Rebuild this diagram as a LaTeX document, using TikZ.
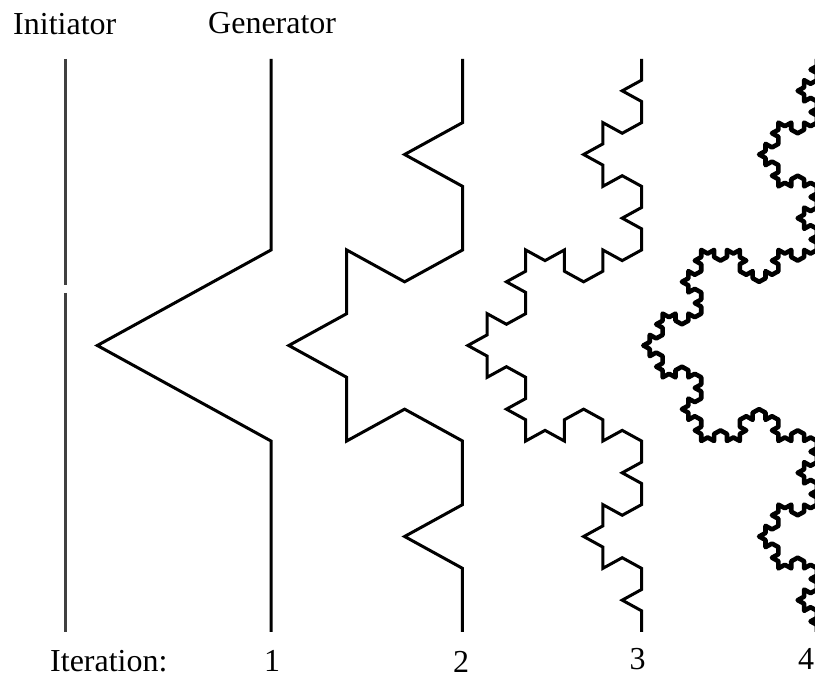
\documentclass[tikz,border=0pt]{standalone}
\usepackage{fontspec}
\setmainfont{Liberation Serif}
\usetikzlibrary{lindenmayersystems}

% Koch rule: the bump of each segment turns to the right of the heading
\pgfdeclarelindenmayersystem{KochLeft}{\rule{F -> F-F++F-F}}

\tikzset{
  label text/.style={inner sep=0pt, text depth=0pt, font=\fontsize{32}{38}\selectfont},
  curve line/.style={line width=3pt, black},
  fine curve/.style={line width=4.6pt, black, line join=round},
}

% one Koch stage hanging from (#1, top): order #2, segment length #3, stroke style #4
\newcommand{\kochstage}[4]{%
  \begin{scope}[shift={(#1,620)}, xscale=1.05, rotate=-90]
    \draw[#4] (0,0) l-system
      [l-system={KochLeft, axiom=F, order=#2, step=#3, angle=60}];
  \end{scope}}

\begin{document}
\begin{tikzpicture}[x=1pt, y=1pt]
  \useasboundingbox (0,0) rectangle (815,679);

  % headings
  \node[label text, anchor=base west] (initlabel) at (13,644) {Initiator};
  \node[label text, anchor=base west] (genlabel) at (208,645) {Generator};

  % initiator: a single segment, with the small break in it
  \coordinate (i0) at (65.7,620);
  \coordinate (i1) at (65.7,394);
  \coordinate (i2) at (65.7,386);
  \coordinate (i3) at (65.7,47);
  \draw[line width=3pt, black!75] (i0) -- (i1);
  \draw[line width=3pt, black!75] (i2) -- (i3);

  % generator and the following iterations
  \kochstage{271}{1}{191pt}{curve line}
  \kochstage{462.5}{2}{63.667pt}{curve line}
  \kochstage{641.5}{3}{21.222pt}{curve line}
  \kochstage{817}{4}{7.074pt}{fine curve}

  % iteration numbers
  \node[label text, anchor=base west] (iterlabel) at (50,7) {Iteration:};
  \node[label text, anchor=base] (n1) at (272,7) {1};
  \node[label text, anchor=base] (n2) at (461,6) {2};
  \node[label text, anchor=base] (n3) at (637.5,9) {3};
  \node[label text, anchor=base west] (n4) at (798,9) {4};
\end{tikzpicture}
\end{document}
